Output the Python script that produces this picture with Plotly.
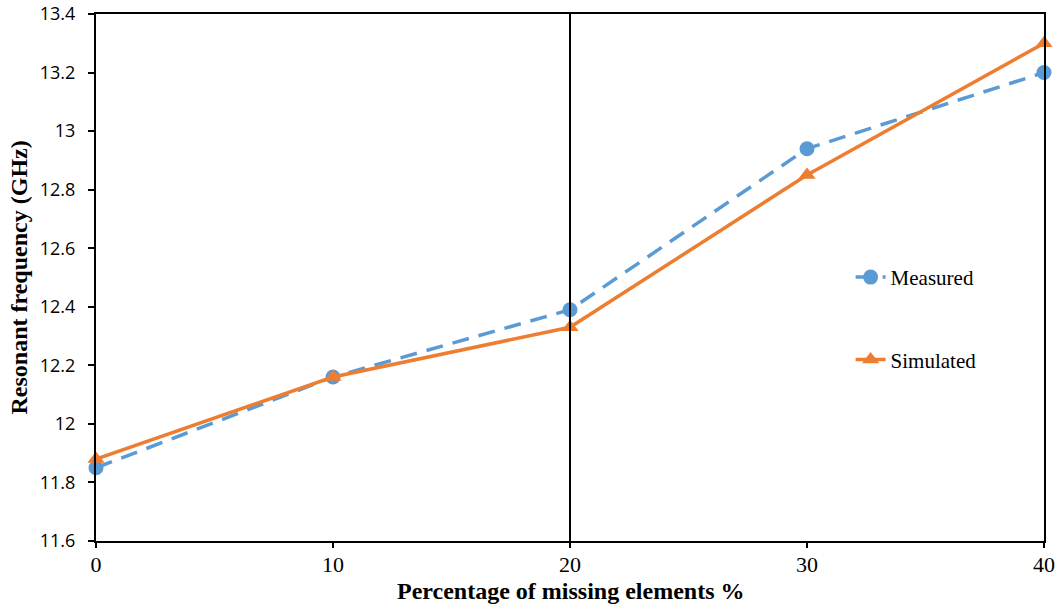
import plotly.graph_objects as go

x_pct = [0, 10, 20, 30, 40]
measured = [11.85, 12.16, 12.39, 12.94, 13.20]
simulated = [11.88, 12.16, 12.33, 12.85, 13.30]
y_ticks = [11.6, 11.8, 12.0, 12.2, 12.4, 12.6, 12.8, 13.0, 13.2, 13.4]
y_tick_text = ["11.6", "11.8", "12", "12.2", "12.4", "12.6", "12.8", "13", "13.2", "13.4"]
x_ticks = [0, 10, 20, 30, 40]
x_title = "Percentage of missing elements %"
y_title = "Resonant frequency (GHz)"

fig = go.Figure()
fig.add_trace(go.Scatter(
    x=x_pct, y=measured, name="Measured", mode="lines+markers",
    line=dict(color="#5B9BD5", width=3.5, dash="17px,10px"),
    marker=dict(symbol="circle", size=15, color="#5B9BD5"),
    legendgroup="m", cliponaxis=False,
))
fig.add_trace(go.Scatter(
    x=x_pct, y=simulated, name="Simulated", mode="lines+markers",
    line=dict(color="#ED7D31", width=3.5),
    marker=dict(symbol="triangle-up", size=15, color="#ED7D31"),
    legendgroup="s", cliponaxis=False,
))

fig.add_shape(type="line", x0=20, x1=20, y0=0, y1=1, xref="x", yref="paper",
              line=dict(color="black", width=2))

fig.add_annotation(text="<b>" + x_title + "</b>", xref="paper", yref="paper",
                   x=0.5, y=0, xanchor="center", yanchor="middle", yshift=-50,
                   showarrow=False,
                   font=dict(family="Liberation Serif", size=24, color="black"))
fig.add_annotation(text="<b>" + y_title + "</b>", xref="paper", yref="paper",
                   x=0, y=0.5, xanchor="center", yanchor="middle", xshift=-78,
                   textangle=-90, showarrow=False,
                   font=dict(family="Liberation Serif", size=24, color="black"))

fig.update_layout(
    width=1063, height=610,
    margin=dict(l=96, r=19, t=14, b=69, autoexpand=False),
    paper_bgcolor="white", plot_bgcolor="white",
    showlegend=True,
    legend=dict(x=0.796, y=0.539, xanchor="left", yanchor="top",
                font=dict(family="Liberation Serif", size=21, color="black"),
                tracegroupgap=52, bgcolor="rgba(0,0,0,0)"),
    xaxis=dict(range=[0, 40], tickvals=x_ticks, ticks="outside", ticklen=5,
               tickwidth=2, tickcolor="black", automargin=False,
               ticklabelstandoff=-2, ticklabeloverflow="allow",
               showline=True, linecolor="black", linewidth=2, mirror=True,
               showgrid=False, zeroline=False,
               tickfont=dict(family="Liberation Serif", size=22, color="black")),
    yaxis=dict(range=[11.6, 13.4], tickvals=y_ticks, ticktext=y_tick_text,
               ticks="outside", ticklen=6, tickwidth=2, tickcolor="black",
               automargin=False, ticklabelstandoff=9, ticklabeloverflow="allow",
               showline=True, linecolor="black", linewidth=2, mirror=True,
               showgrid=False, zeroline=False,
               tickfont=dict(family="Open Sans", size=18, color="black")),
)

fig.write_html("out.html", config={"displayModeBar": False},
               post_script="document.body.style.margin='0';")
